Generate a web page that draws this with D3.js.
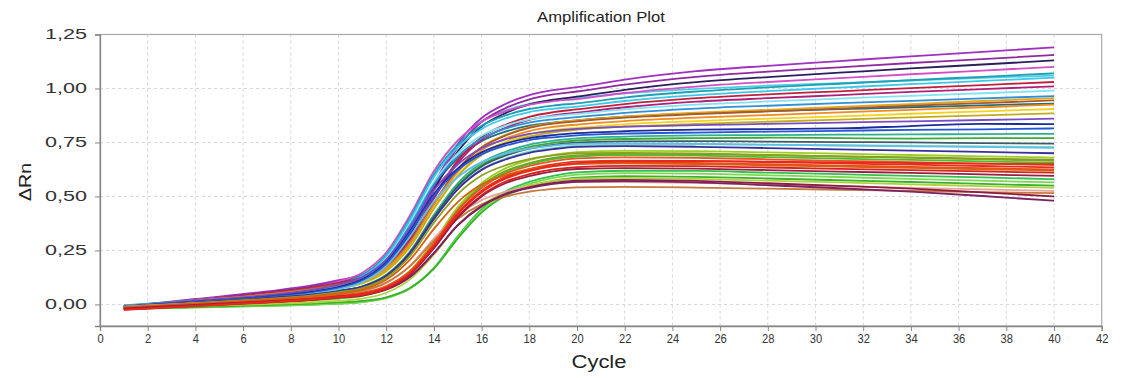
<!DOCTYPE html>
<html>
<head>
<meta charset="utf-8">
<script src="https://cdn.jsdelivr.net/npm/d3@7"></script>
<style>
  html, body { margin: 0; padding: 0; background: #fff; }
  svg { display: block; font-family: "Liberation Sans", Arial, sans-serif; }
</style>
</head>
<body>
<svg id="chart" width="1131" height="378"></svg>
<script>
// Cycle numbers at which ΔRn was sampled for every well
const cycles = [1, 4, 7, 9, 10, 11, 12, 13, 14, 15, 16, 17, 18, 19, 20, 22, 25, 28, 31, 34, 37, 40];

// Axis ticks
const xTicks = [0, 2, 4, 6, 8, 10, 12, 14, 16, 18, 20, 22, 24, 26, 28, 30, 32, 34, 36, 38, 40, 42];
const yTicks = [0, 0.25, 0.5, 0.75, 1.0, 1.25];

// ΔRn per well, one value per entry of `cycles`
const A1  = [-0.010, 0.025, 0.060, 0.090, 0.112, 0.138, 0.205, 0.344, 0.558, 0.743, 0.863, 0.928, 0.969, 0.992, 1.006, 1.041, 1.080, 1.105, 1.127, 1.149, 1.170, 1.190];
const A2  = [-0.012, 0.022, 0.056, 0.085, 0.106, 0.133, 0.198, 0.335, 0.545, 0.727, 0.845, 0.909, 0.950, 0.973, 0.986, 1.018, 1.054, 1.078, 1.098, 1.118, 1.136, 1.155];
const A3  = [-0.015, 0.018, 0.052, 0.080, 0.101, 0.127, 0.191, 0.324, 0.530, 0.708, 0.824, 0.886, 0.926, 0.948, 0.962, 0.994, 1.029, 1.053, 1.073, 1.093, 1.111, 1.130];
const A4  = [-0.008, 0.021, 0.051, 0.080, 0.106, 0.147, 0.240, 0.413, 0.617, 0.758, 0.846, 0.894, 0.925, 0.941, 0.951, 0.979, 1.009, 1.030, 1.048, 1.066, 1.083, 1.100];
const A5  = [-0.005, 0.020, 0.045, 0.071, 0.095, 0.136, 0.228, 0.399, 0.601, 0.740, 0.827, 0.875, 0.905, 0.921, 0.931, 0.958, 0.986, 1.005, 1.022, 1.039, 1.054, 1.070];
const A6  = [-0.010, 0.015, 0.040, 0.066, 0.090, 0.130, 0.222, 0.390, 0.590, 0.727, 0.813, 0.861, 0.891, 0.906, 0.916, 0.942, 0.969, 0.988, 1.004, 1.020, 1.035, 1.050];
const A7  = [-0.015, 0.018, 0.052, 0.080, 0.100, 0.124, 0.184, 0.308, 0.500, 0.666, 0.774, 0.832, 0.869, 0.890, 0.903, 0.928, 0.955, 0.973, 0.987, 1.002, 1.016, 1.030];
const A8  = [-0.012, 0.019, 0.049, 0.076, 0.095, 0.119, 0.178, 0.301, 0.490, 0.654, 0.761, 0.818, 0.855, 0.875, 0.888, 0.913, 0.939, 0.955, 0.969, 0.984, 0.997, 1.010];
const A9  = [-0.008, 0.015, 0.037, 0.062, 0.084, 0.123, 0.211, 0.374, 0.566, 0.699, 0.782, 0.828, 0.857, 0.872, 0.882, 0.903, 0.925, 0.940, 0.953, 0.966, 0.978, 0.990];
const A10 = [-0.010, 0.012, 0.033, 0.057, 0.079, 0.117, 0.204, 0.365, 0.555, 0.686, 0.768, 0.814, 0.842, 0.857, 0.867, 0.887, 0.907, 0.920, 0.932, 0.943, 0.954, 0.965];
const A11 = [-0.015, 0.017, 0.048, 0.075, 0.094, 0.117, 0.173, 0.290, 0.470, 0.626, 0.727, 0.782, 0.817, 0.837, 0.848, 0.865, 0.881, 0.894, 0.907, 0.920, 0.932, 0.945];
const A12 = [-0.012, 0.017, 0.046, 0.071, 0.089, 0.111, 0.167, 0.282, 0.460, 0.614, 0.714, 0.768, 0.803, 0.822, 0.833, 0.849, 0.865, 0.877, 0.889, 0.901, 0.913, 0.925];
const B1  = [-0.010, 0.013, 0.037, 0.058, 0.074, 0.096, 0.152, 0.267, 0.445, 0.599, 0.699, 0.753, 0.788, 0.807, 0.818, 0.834, 0.849, 0.860, 0.871, 0.883, 0.894, 0.905];
const B2  = [-0.013, 0.013, 0.039, 0.062, 0.079, 0.100, 0.155, 0.268, 0.443, 0.594, 0.692, 0.745, 0.778, 0.797, 0.809, 0.823, 0.836, 0.846, 0.856, 0.866, 0.875, 0.885];
const B3  = [-0.010, 0.017, 0.043, 0.069, 0.092, 0.127, 0.207, 0.354, 0.528, 0.648, 0.723, 0.764, 0.790, 0.804, 0.813, 0.823, 0.830, 0.836, 0.842, 0.848, 0.854, 0.860];
const B4  = [-0.012, 0.012, 0.036, 0.060, 0.081, 0.116, 0.195, 0.340, 0.511, 0.630, 0.704, 0.745, 0.770, 0.784, 0.793, 0.802, 0.809, 0.812, 0.815, 0.826, 0.836, 0.835];
const B5  = [-0.008, 0.013, 0.034, 0.056, 0.076, 0.111, 0.189, 0.333, 0.503, 0.621, 0.694, 0.735, 0.761, 0.774, 0.783, 0.791, 0.796, 0.800, 0.804, 0.808, 0.811, 0.815];
const B6  = [-0.012, 0.009, 0.029, 0.048, 0.063, 0.084, 0.137, 0.246, 0.415, 0.561, 0.656, 0.707, 0.740, 0.758, 0.769, 0.777, 0.783, 0.784, 0.786, 0.787, 0.789, 0.790];
const B7  = [-0.015, 0.003, 0.022, 0.039, 0.053, 0.074, 0.127, 0.236, 0.405, 0.551, 0.646, 0.697, 0.730, 0.748, 0.759, 0.766, 0.770, 0.772, 0.770, 0.768, 0.770, 0.770];
const B8  = [-0.010, 0.010, 0.030, 0.048, 0.063, 0.083, 0.134, 0.241, 0.405, 0.547, 0.639, 0.689, 0.721, 0.739, 0.749, 0.755, 0.756, 0.754, 0.752, 0.750, 0.747, 0.745];
const B9  = [-0.012, 0.009, 0.029, 0.051, 0.070, 0.103, 0.177, 0.315, 0.477, 0.589, 0.659, 0.698, 0.722, 0.735, 0.743, 0.746, 0.744, 0.740, 0.736, 0.732, 0.729, 0.725];
const B10 = [-0.010, 0.010, 0.030, 0.048, 0.062, 0.082, 0.132, 0.236, 0.395, 0.533, 0.623, 0.671, 0.702, 0.719, 0.730, 0.733, 0.730, 0.724, 0.718, 0.712, 0.706, 0.700];
const B11 = [-0.015, 0.000, 0.015, 0.028, 0.038, 0.050, 0.082, 0.156, 0.291, 0.451, 0.561, 0.630, 0.668, 0.692, 0.705, 0.711, 0.710, 0.704, 0.698, 0.692, 0.686, 0.680];
const B12 = [-0.012, 0.007, 0.026, 0.043, 0.057, 0.076, 0.124, 0.224, 0.378, 0.511, 0.597, 0.644, 0.673, 0.690, 0.700, 0.702, 0.699, 0.692, 0.685, 0.679, 0.672, 0.665];
const C1  = [-0.018, -0.005, 0.007, 0.019, 0.027, 0.040, 0.072, 0.144, 0.277, 0.435, 0.544, 0.612, 0.649, 0.673, 0.685, 0.691, 0.689, 0.682, 0.675, 0.669, 0.662, 0.655];
const C2  = [-0.020, -0.002, 0.017, 0.031, 0.042, 0.054, 0.085, 0.154, 0.283, 0.435, 0.539, 0.605, 0.641, 0.664, 0.676, 0.681, 0.679, 0.672, 0.665, 0.659, 0.652, 0.645];
const C3  = [-0.022, -0.005, 0.013, 0.027, 0.037, 0.049, 0.079, 0.147, 0.274, 0.423, 0.527, 0.591, 0.627, 0.649, 0.661, 0.666, 0.665, 0.659, 0.653, 0.647, 0.641, 0.635];
const C4  = [-0.020, -0.003, 0.013, 0.027, 0.037, 0.048, 0.078, 0.146, 0.270, 0.417, 0.519, 0.582, 0.617, 0.640, 0.651, 0.657, 0.655, 0.649, 0.643, 0.637, 0.631, 0.625];
const C5  = [-0.015, 0.003, 0.022, 0.038, 0.051, 0.069, 0.114, 0.207, 0.350, 0.474, 0.555, 0.598, 0.626, 0.641, 0.651, 0.653, 0.650, 0.644, 0.638, 0.632, 0.626, 0.620];
const C6  = [-0.025, -0.008, 0.008, 0.022, 0.032, 0.043, 0.073, 0.139, 0.261, 0.406, 0.506, 0.569, 0.603, 0.625, 0.636, 0.642, 0.640, 0.634, 0.628, 0.622, 0.616, 0.610];
const C7  = [-0.018, -0.002, 0.014, 0.027, 0.037, 0.048, 0.076, 0.141, 0.261, 0.402, 0.500, 0.561, 0.594, 0.616, 0.627, 0.631, 0.629, 0.622, 0.615, 0.609, 0.602, 0.595];
const C8  = [-0.020, -0.013, -0.007, -0.001, 0.004, 0.011, 0.030, 0.075, 0.169, 0.315, 0.441, 0.523, 0.567, 0.595, 0.611, 0.619, 0.618, 0.610, 0.603, 0.595, 0.588, 0.580];
const C9  = [-0.022, -0.015, -0.007, -0.001, 0.004, 0.011, 0.029, 0.074, 0.167, 0.310, 0.434, 0.515, 0.558, 0.586, 0.601, 0.608, 0.606, 0.598, 0.590, 0.581, 0.573, 0.565];
const C10 = [-0.020, -0.012, -0.003, 0.004, 0.009, 0.016, 0.033, 0.076, 0.166, 0.305, 0.425, 0.503, 0.545, 0.572, 0.587, 0.594, 0.591, 0.583, 0.575, 0.567, 0.558, 0.550];
const C11 = [-0.015, -0.007, 0.002, 0.010, 0.016, 0.027, 0.054, 0.116, 0.231, 0.367, 0.460, 0.519, 0.551, 0.572, 0.582, 0.586, 0.581, 0.573, 0.565, 0.556, 0.548, 0.540];
const C12 = [-0.010, 0.005, 0.020, 0.034, 0.045, 0.060, 0.099, 0.180, 0.305, 0.413, 0.483, 0.521, 0.545, 0.559, 0.567, 0.567, 0.563, 0.555, 0.548, 0.540, 0.533, 0.525];
const D1  = [-0.012, 0.005, 0.023, 0.038, 0.049, 0.064, 0.101, 0.177, 0.295, 0.397, 0.463, 0.499, 0.522, 0.535, 0.542, 0.544, 0.541, 0.536, 0.531, 0.526, 0.520, 0.515];
const D2  = [-0.020, -0.005, 0.010, 0.022, 0.031, 0.041, 0.068, 0.127, 0.237, 0.367, 0.456, 0.512, 0.543, 0.563, 0.573, 0.577, 0.572, 0.561, 0.549, 0.536, 0.519, 0.500];
const D3  = [-0.018, -0.002, 0.014, 0.027, 0.036, 0.046, 0.072, 0.130, 0.238, 0.366, 0.454, 0.509, 0.539, 0.558, 0.568, 0.571, 0.565, 0.552, 0.538, 0.522, 0.502, 0.480];
const D4  = [-0.024, -0.007, 0.011, 0.025, 0.035, 0.047, 0.077, 0.144, 0.270, 0.418, 0.521, 0.585, 0.620, 0.642, 0.654, 0.662, 0.664, 0.661, 0.658, 0.655, 0.652, 0.650];
const D5  = [-0.010, 0.013, 0.037, 0.061, 0.083, 0.121, 0.206, 0.362, 0.548, 0.676, 0.756, 0.800, 0.828, 0.842, 0.852, 0.869, 0.885, 0.895, 0.904, 0.913, 0.922, 0.930];
const D6  = [-0.012, 0.014, 0.039, 0.062, 0.079, 0.103, 0.160, 0.280, 0.465, 0.625, 0.729, 0.785, 0.821, 0.841, 0.853, 0.870, 0.888, 0.901, 0.915, 0.928, 0.942, 0.955];
const D7  = [-0.012, 0.007, 0.026, 0.044, 0.058, 0.078, 0.128, 0.233, 0.395, 0.535, 0.626, 0.675, 0.707, 0.724, 0.735, 0.740, 0.741, 0.739, 0.737, 0.735, 0.732, 0.730];
const D8  = [-0.016, -0.001, 0.015, 0.028, 0.037, 0.050, 0.081, 0.153, 0.285, 0.442, 0.550, 0.617, 0.654, 0.678, 0.690, 0.697, 0.696, 0.691, 0.686, 0.681, 0.675, 0.670];
const D9  = [-0.008, 0.016, 0.041, 0.067, 0.091, 0.133, 0.229, 0.405, 0.614, 0.758, 0.848, 0.898, 0.929, 0.945, 0.956, 0.977, 0.998, 1.013, 1.025, 1.037, 1.049, 1.060];

// Wells in drawing order, with their trace colours
const wellNames = ["D5", "D6", "D7", "D8", "D9",
  "A1", "A2", "A3", "A4", "A5", "A6", "A7", "A8", "A9", "A10", "A11", "A12",
  "B1", "B2", "B3", "B4", "B5", "B6", "B7", "B8", "B9", "B10", "B11", "B12",
  "C1", "C8", "C9", "C10", "C11", "C12", "D1", "D2", "D3",
  "C2", "C3", "C4", "C5", "C6", "C7", "D4"];
const wellValues = [D5, D6, D7, D8, D9,
  A1, A2, A3, A4, A5, A6, A7, A8, A9, A10, A11, A12,
  B1, B2, B3, B4, B5, B6, B7, B8, B9, B10, B11, B12,
  C1, C8, C9, C10, C11, C12, D1, D2, D3,
  C2, C3, C4, C5, C6, C7, D4];
const wellColors = ["#1a7080", "#e0a818", "#80d8c8", "#7a9a2a", "#48d0e0",
  "#a030c0", "#8e2a9e", "#2a1f5c", "#d24fc8", "#1f9fb5", "#3cc8ec", "#c0203c", "#b0207a", "#7fe3f2", "#2f8fd8", "#a8582c", "#f08a1c",
  "#f2d21e", "#c2ac1e", "#7a4cc4", "#1c2c9c", "#2456d6", "#2fb092", "#3aaa3a", "#3c5a6a", "#5ec0e4", "#3a2e9a", "#9ccf1e", "#8e9e1e",
  "#4cbe2e", "#2ec24e", "#7ed84e", "#38b22a", "#aed23e", "#e4a49a", "#c8783c", "#8e1c3e", "#7a2466",
  "#ec5420", "#e2301e", "#f2441a", "#d4600e", "#d8201e", "#9c1e42", "#e8281c"];

const svg = d3.select("#chart");
const plotLeft = 100, plotRight = 1101.7, plotTop = 34.5, plotBottom = 326;

const x = d3.scaleLinear().domain([0, 42]).range([plotLeft, plotRight]);
const y = d3.scaleLinear().domain([-0.1, 1.25]).range([plotBottom, plotTop]);
const fmt = v => d3.format(".2f")(v).replace(".", ",");

// Dashed grid
const grid = svg.append("g").attr("stroke", "#d6d6d6").attr("stroke-width", 1).attr("stroke-dasharray", "3,3");
grid.selectAll("line.v").data(xTicks.filter(t => t > 0 && t < 42)).join("line")
  .attr("x1", d => x(d)).attr("x2", d => x(d)).attr("y1", plotTop).attr("y2", plotBottom);
grid.selectAll("line.h").data(yTicks.filter(t => t < 1.25)).join("line")
  .attr("x1", plotLeft).attr("x2", plotRight).attr("y1", d => y(d)).attr("y2", d => y(d));

// Plot frame
svg.append("rect").attr("x", plotLeft).attr("y", plotTop)
  .attr("width", plotRight - plotLeft).attr("height", plotBottom - plotTop)
  .attr("fill", "none").attr("stroke", "#a8a8a8").attr("stroke-width", 1.2);

// Amplification traces
const line = d3.line().x((d, i) => x(cycles[i])).y(d => y(d)).curve(d3.curveMonotoneX);
svg.append("g").attr("fill", "none").attr("stroke-width", 1.8).attr("stroke-linejoin", "round")
  .selectAll("path").data(wellValues).join("path")
  .attr("stroke", (d, i) => wellColors[i])
  .attr("data-well", (d, i) => wellNames[i])
  .attr("d", line);

// Axes
const yAxis = d3.axisLeft(y).tickValues(yTicks).tickSize(5).tickPadding(8).tickFormat(fmt);
const xAxis = d3.axisBottom(x).tickValues(xTicks).tickSize(5).tickPadding(3).tickFormat(d3.format("d"));

const gy = svg.append("g").attr("transform", `translate(${plotLeft},0)`).call(yAxis);
const gx = svg.append("g").attr("transform", `translate(0,${plotBottom})`).call(xAxis);
[gx, gy].forEach(g => {
  g.select(".domain").attr("stroke", "#858585").attr("stroke-width", 1.3);
  g.selectAll(".tick line").attr("stroke", "#858585");
  g.selectAll(".tick text").attr("fill", "#333").attr("font-family", "Liberation Sans, Arial, sans-serif");
});
gy.selectAll(".tick text").attr("font-size", 14).attr("textLength", 42).attr("lengthAdjust", "spacingAndGlyphs");
gx.selectAll(".tick text").attr("font-size", 13)
  .attr("textLength", d => String(d).length * 6.2).attr("lengthAdjust", "spacingAndGlyphs");

// Titles
svg.append("text").attr("x", 601).attr("y", 22).attr("text-anchor", "middle")
  .attr("font-size", 15).attr("fill", "#222").attr("textLength", 128).attr("lengthAdjust", "spacingAndGlyphs")
  .text("Amplification Plot");
svg.append("text").attr("x", 599).attr("y", 368).attr("text-anchor", "middle")
  .attr("font-size", 18).attr("fill", "#222").attr("textLength", 55).attr("lengthAdjust", "spacingAndGlyphs")
  .text("Cycle");
svg.append("text").attr("transform", "translate(31,182) rotate(-90)").attr("text-anchor", "middle")
  .attr("font-size", 17).attr("fill", "#222").attr("textLength", 38).attr("lengthAdjust", "spacingAndGlyphs")
  .text("ΔRn");
</script>
</body>
</html>
